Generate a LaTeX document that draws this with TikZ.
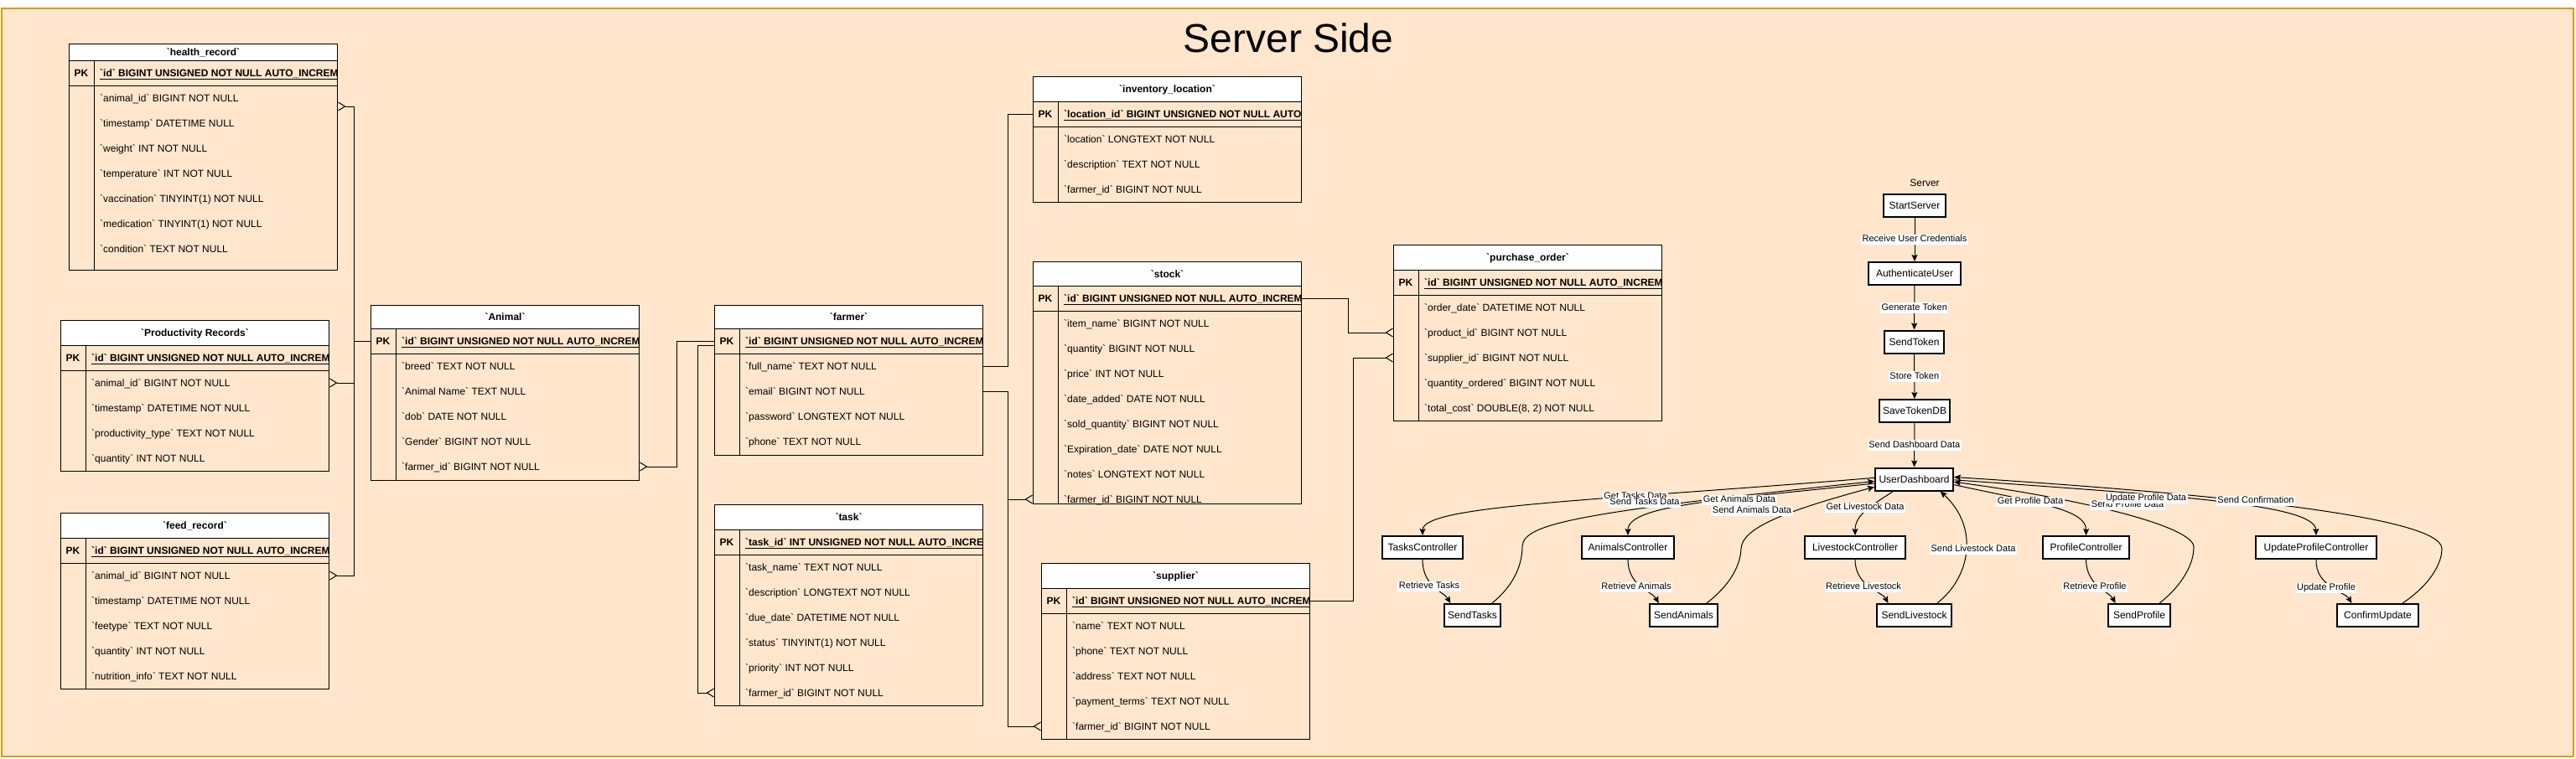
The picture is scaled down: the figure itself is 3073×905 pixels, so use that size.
\documentclass[tikz,border=0pt]{standalone}
\usepackage{fontspec}
\newfontfamily\diagfont{Liberation Sans}
\usetikzlibrary{arrows.meta,calc}

\definecolor{framefill}{HTML}{FFE6CC}
\definecolor{frameline}{HTML}{D79B00}

% name, x, y, header height, height, title, key field, fields
\newcommand{\ertable}[8]{%
  \node[tbl, minimum height=#5, anchor=north west] (#1) at (#2,#3) {};
  \node[tblhead, minimum height=#4, anchor=north west] (#1-h) at (#2,#3) {#6};
  \begin{scope}
    \clip (#2,{#3+#4}) rectangle ++(320,30);
    \node[keyrow, anchor=west] (#1-pk) at ({#2+37},{#3+#4+15}) {\underline{#7}};
  \end{scope}
  \node[keyrow] (#1-pkl) at ({#2+15},{#3+#4+15}) {PK};
  \draw[tblline] (#2,{#3+#4+30}) -- ++(320,0);
  \draw[tblline] ({#2+30},{#3+#4}) -- ({#2+30},{#3+#5});
  \foreach \fld [count=\i] in {#8}
    \node[field, anchor=west] (#1-\i) at ({#2+37},{#3+#4+45+30*(\i-1)}) {\fld};
}

\begin{document}
\begin{tikzpicture}[x=1pt, y=-1pt,
    tbl/.style={draw, line width=1pt, minimum width=320, inner sep=0},
    tblhead/.style={draw, line width=1pt, fill=white, minimum width=320, inner sep=0,
      font=\diagfont\bfseries\fontsize{12}{14}\selectfont, text height=8.6pt, text depth=0pt},
    tblline/.style={line width=1pt},
    keyrow/.style={inner sep=0, font=\diagfont\bfseries\fontsize{12}{14}\selectfont,
      text height=8.6pt, text depth=0pt},
    field/.style={inner sep=0, font=\diagfont\fontsize{12}{14}\selectfont,
      text height=8.6pt, text depth=0pt},
    erline/.style={draw, line width=1pt},
    many/.style={-{Straight Barb[reversed, length=8pt, width=10pt, line width=1pt]}},
    flowbox/.style={draw, line width=2pt, fill=white, minimum height=27, inner xsep=4pt,
      font=\diagfont\fontsize{12}{14}\selectfont, text height=8.6pt, text depth=0pt},
    lbl/.style={fill=white, inner xsep=1.5pt, inner ysep=1pt,
      font=\diagfont\fontsize{11}{13}\selectfont, text height=8pt, text depth=2.5pt},
    flow/.style={draw, line width=1pt, -{Stealth[length=8pt, width=7pt, inset=1.5pt]}},
  ]
  \useasboundingbox (0,0) rectangle (3073,905);
  \fill[white] (0,0) rectangle (3073,905);
  \draw[frameline, fill=framefill, line width=2pt] (2,9.5) rectangle (3070,903);

  \node[font=\diagfont\fontsize{48}{56}\selectfont] (title) at (1537,45) {Server Side};

  % database tables
  \ertable{health}{82}{52}{20}{270}{`health\_record`}{`id` BIGINT UNSIGNED NOT NULL AUTO\_INCREMENT}
    {`animal\_id` BIGINT NOT NULL, `timestamp` DATETIME NULL, `weight` INT NOT NULL,
     `temperature` INT NOT NULL, `vaccination` TINYINT(1) NOT NULL,
     `medication` TINYINT(1) NOT NULL, `condition` TEXT NOT NULL}
  \ertable{prod}{72}{382}{30}{180}{`Productivity Records`}{`id` BIGINT UNSIGNED NOT NULL AUTO\_INCREMENT}
    {`animal\_id` BIGINT NOT NULL, `timestamp` DATETIME NOT NULL,
     `productivity\_type` TEXT NOT NULL, `quantity` INT NOT NULL}
  \ertable{feed}{72}{612}{30}{210}{`feed\_record`}{`id` BIGINT UNSIGNED NOT NULL AUTO\_INCREMENT}
    {`animal\_id` BIGINT NOT NULL, `timestamp` DATETIME NOT NULL, `feetype` TEXT NOT NULL,
     `quantity` INT NOT NULL, `nutrition\_info` TEXT NOT NULL}
  \ertable{animal}{442}{364}{28}{209}{`Animal`}{`id` BIGINT UNSIGNED NOT NULL AUTO\_INCREMENT}
    {`breed` TEXT NOT NULL, `Animal Name` TEXT NULL, `dob` DATE NOT NULL,
     `Gender` BIGINT NOT NULL, `farmer\_id` BIGINT NOT NULL}
  \ertable{farmer}{852}{364}{28}{179}{`farmer`}{`id` BIGINT UNSIGNED NOT NULL AUTO\_INCREMENT}
    {`full\_name` TEXT NOT NULL, `email` BIGINT NOT NULL, `password` LONGTEXT NOT NULL,
     `phone` TEXT NOT NULL}
  \ertable{task}{852}{602}{30}{240}{`task`}{`task\_id` INT UNSIGNED NOT NULL AUTO\_INCREMENT}
    {`task\_name` TEXT NOT NULL, `description` LONGTEXT NOT NULL, `due\_date` DATETIME NOT NULL,
     `status` TINYINT(1) NOT NULL, `priority` INT NOT NULL, `farmer\_id` BIGINT NOT NULL}
  \ertable{inventory}{1232}{91}{30}{150}{`inventory\_location`}{`location\_id` BIGINT UNSIGNED NOT NULL AUTO\_INCREMENT}
    {`location` LONGTEXT NOT NULL, `description` TEXT NOT NULL, `farmer\_id` BIGINT NOT NULL}
  \ertable{stock}{1232}{312}{29}{289}{`stock`}{`id` BIGINT UNSIGNED NOT NULL AUTO\_INCREMENT}
    {`item\_name` BIGINT NOT NULL, `quantity` BIGINT NOT NULL, `price` INT NOT NULL,
     `date\_added` DATE NOT NULL, `sold\_quantity` BIGINT NOT NULL,
     `Expiration\_date` DATE NOT NULL, `notes` LONGTEXT NOT NULL, `farmer\_id` BIGINT NOT NULL}
  \ertable{supplier}{1242}{672}{30}{210}{`supplier`}{`id` BIGINT UNSIGNED NOT NULL AUTO\_INCREMENT}
    {`name` TEXT NOT NULL, `phone` TEXT NOT NULL, `address` TEXT NOT NULL,
     `payment\_terms` TEXT NOT NULL, `farmer\_id` BIGINT NOT NULL}
  \ertable{purchase}{1662}{292}{30}{210}{`purchase\_order`}{`id` BIGINT UNSIGNED NOT NULL AUTO\_INCREMENT}
    {`order\_date` DATETIME NOT NULL, `product\_id` BIGINT NOT NULL, `supplier\_id` BIGINT NOT NULL,
     `quantity\_ordered` BIGINT NOT NULL, {`total\_cost` DOUBLE(8, 2) NOT NULL}}

  % relations
  \draw[erline, many] (animal.west |- animal-pk) -- ++(-20,0) |- ($(health.east |- health-1)+(0,10)$);
  \draw[erline, many] (animal.west |- animal-pk) -- ++(-20,0) |- (prod.east |- prod-1);
  \draw[erline, many] (animal.west |- animal-pk) -- ++(-20,0) |- (feed.east |- feed-1);
  \draw[erline, many] (farmer.west |- farmer-pk) -- ++(-45,0) |- (animal.east |- animal-5);
  \draw[erline, many] ($(farmer.west |- farmer-pk)+(0,5)$) -- ++(-20,0) |- (task.west |- task-6);
  \draw[erline] (farmer.east |- farmer-1) -- ++(29,0) |- (inventory.west |- inventory-pk);
  \draw[erline, many] (farmer.east |- farmer-2) -- ++(29,0) |- (stock.west |- stock-8);
  \draw[erline, many] (farmer.east |- farmer-2) -- ++(29,0) |- (supplier.west |- supplier-5);
  \draw[erline, many] (stock.east |- stock-pk) -- ++(55,0) |- (purchase.west |- purchase-2);
  \draw[erline, many] (supplier.east |- supplier-pk) -- ++(51,0) |- (purchase.west |- purchase-3);

  % server flow
  \node[font=\diagfont\fontsize{12}{14}\selectfont] (server) at (2296,218) {Server};
  \node[flowbox, minimum width=74] (start) at (2284,245.5) {StartServer};
  \node[flowbox, minimum width=110] (auth) at (2284,326.5) {AuthenticateUser};
  \node[flowbox, minimum width=71] (sendtoken) at (2283.5,408) {SendToken};
  \node[flowbox, minimum width=84] (savetoken) at (2284,490.5) {SaveTokenDB};
  \node[flowbox, minimum width=93] (dash) at (2283.5,572) {UserDashboard};

  \node[flowbox, minimum width=96] (tasksctl) at (1697,653.5) {TasksController};
  \node[flowbox, minimum width=67] (sendtasks) at (1756.5,734.5) {SendTasks};
  \node[flowbox, minimum width=110] (animalsctl) at (1942,653.5) {AnimalsController};
  \node[flowbox, minimum width=81] (sendanimals) at (2008.5,734.5) {SendAnimals};
  \node[flowbox, minimum width=120] (livectl) at (2213,653.5) {LivestockController};
  \node[flowbox, minimum width=89] (sendlive) at (2283.5,734.5) {SendLivestock};
  \node[flowbox, minimum width=103] (profilectl) at (2488.5,653.5) {ProfileController};
  \node[flowbox, minimum width=74] (sendprofile) at (2552,734.5) {SendProfile};
  \node[flowbox, minimum width=144] (updatectl) at (2763,653.5) {UpdateProfileController};
  \node[flowbox, minimum width=97] (confirm) at (2836.5,734.5) {ConfirmUpdate};

  \draw[flow] (start) -- (auth) node[lbl, midway] (l-cred) {Receive User Credentials};
  \draw[flow] (auth) -- (sendtoken) node[lbl, midway] (l-gen) {Generate Token};
  \draw[flow] (sendtoken) -- (savetoken) node[lbl, midway] (l-store) {Store Token};
  \draw[flow] (savetoken) -- (dash) node[lbl, midway] (l-dash) {Send Dashboard Data};

  \draw[flow] (dash.178) .. controls (1900,598) and (1697,603) .. (tasksctl.north);
  \draw[flow] (sendtasks.32) .. controls (1805,700) and (1816,675) .. (1816,652)
    .. controls (1818,625) and (1880,612) .. (dash.183);
  \draw[flow] (dash.186) .. controls (2050,597) and (1942,603) .. (animalsctl.north);
  \draw[flow] (sendanimals.28) .. controls (2062,700) and (2076,677) .. (2077,655)
    .. controls (2078,630) and (2130,610) .. (dash.191);
  \draw[flow] (dash.210) .. controls (2230,605) and (2213,615) .. (livectl.north);
  \draw[flow] (sendlive.28) .. controls (2350,690) and (2362,630) .. (dash.335);
  \draw[flow] (dash.-8) .. controls (2430,600) and (2489,608) .. (profilectl.north);
  \draw[flow] (sendprofile.31) .. controls (2605,697) and (2617,672) .. (2617,653)
    .. controls (2617,628) and (2480,595) .. (dash.-4);
  \draw[flow] (dash.-1) .. controls (2600,592) and (2762,602) .. (updatectl.north);
  \draw[flow] (confirm.26) .. controls (2900,697) and (2913,672) .. (2913,655)
    .. controls (2913,615) and (2620,588) .. (dash.3);

  \draw[flow] (tasksctl.south) .. controls (1697,700) and (1722,706) .. (sendtasks.151);
  \draw[flow] (animalsctl.south) .. controls (1942,700) and (1971,706) .. (sendanimals.154);
  \draw[flow] (livectl.south) .. controls (2213,700) and (2245,706) .. (sendlive.155);
  \draw[flow] (profilectl.south) .. controls (2489,700) and (2516,706) .. (sendprofile.153);
  \draw[flow] (updatectl.south) .. controls (2762,700) and (2797,706) .. (confirm.155);

  % edge labels
  \node[lbl] (l-gettasks) at (1951,593) {Get Tasks Data};
  \node[lbl] (l-sendtasks) at (1962,600) {Send Tasks Data};
  \node[lbl] (l-getanimals) at (2075,597) {Get Animals Data};
  \node[lbl] (l-sendanimals) at (2090,610) {Send Animals Data};
  \node[lbl] (l-getlive) at (2225,606) {Get Livestock Data};
  \node[lbl] (l-sendlive) at (2354,656) {Send Livestock Data};
  \node[lbl] (l-getprofile) at (2422,599) {Get Profile Data};
  \node[lbl] (l-sendprofile) at (2538,603) {Send Profile Data};
  \node[lbl] (l-updprofile) at (2560,595) {Update Profile Data};
  \node[lbl] (l-confirm) at (2691,598) {Send Confirmation};
  \node[lbl] (l-rtasks) at (1705,700) {Retrieve Tasks};
  \node[lbl] (l-ranimals) at (1952,701) {Retrieve Animals};
  \node[lbl] (l-rlive) at (2223,701) {Retrieve Livestock};
  \node[lbl] (l-rprofile) at (2499,701) {Retrieve Profile};
  \node[lbl] (l-update) at (2775,702) {Update Profile};
\end{tikzpicture}
\end{document}
